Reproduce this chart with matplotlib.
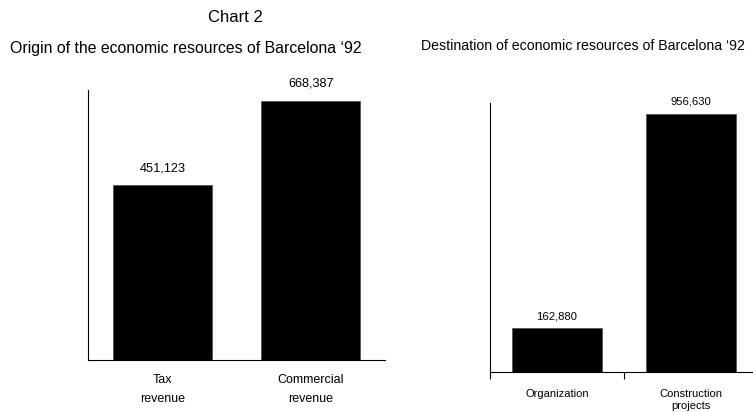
import matplotlib
matplotlib.use("Agg")
from matplotlib import pyplot as plt

plt.rcParams['font.family'] = ['Liberation Sans', 'DejaVu Sans']

# data
origin_labels = ["Tax\nrevenue", "Commercial\nrevenue"]
origin_values = [451123, 668387]
dest_labels = ["Organization", "Construction\nprojects"]
dest_values = [162880, 956630]

fig = plt.figure(figsize=(7.53, 4.12), dpi=100)

# left chart: origin
ax1 = fig.add_axes([0.1169, 0.1262, 0.3944, 0.6553])
pos = range(len(origin_values))
ax1.bar(pos, origin_values, width=0.665, color='black', edgecolor='#555555', linewidth=0.6)
for x, v in zip(pos, origin_values):
    ax1.annotate(f"{v:,}", (x, v), xytext=(0, 8), textcoords='offset points',
                 ha='center', va='bottom', fontsize=9.2)
ax1.set_xlim(-0.5, 1.5)
ax1.set_ylim(0, 697000)
ax1.set_xticks(list(pos))
ax1.set_xticklabels(origin_labels, fontsize=9, linespacing=1.75)
ax1.tick_params(axis='x', length=0, pad=10)
ax1.set_yticks([])
for s in ['top', 'right']:
    ax1.spines[s].set_visible(False)

# right chart: destination
ax2 = fig.add_axes([0.6507, 0.0971, 0.3559, 0.6529])
pos = range(len(dest_values))
ax2.bar(pos, dest_values, width=0.67, color='black', edgecolor='#555555', linewidth=0.6)
for x, v in zip(pos, dest_values):
    ax2.annotate(f"{v:,}", (x, v), xytext=(0, 5), textcoords='offset points',
                 ha='center', va='bottom', fontsize=8.1)
ax2.set_xlim(-0.5, 1.5)
ax2.set_ylim(0, 997000)
ax2.set_xticks([-0.5, 0.5, 1.5])
ax2.set_xticklabels([])
ax2.tick_params(axis='x', which='major', length=5, direction='out')
ax2.set_xticks(list(pos), minor=True)
ax2.set_xticklabels(dest_labels, minor=True, fontsize=8, linespacing=1.35)
ax2.tick_params(axis='x', which='minor', length=0, pad=12)
ax2.set_yticks([])
for s in ['top', 'right']:
    ax2.spines[s].set_visible(False)

fig.text(235 / 753, 1 - 18 / 412, "Chart 2", ha='center', va='center', fontsize=12)
fig.text(10 / 753, 1 - 48 / 412, "Origin of the economic resources of Barcelona \u201892",
         ha='left', va='center', fontsize=11.4)
fig.text(421 / 753, 1 - 46 / 412, "Destination of economic resources of Barcelona \u201892",
         ha='left', va='center', fontsize=10.2)

fig.savefig("out.png", dpi=100)
